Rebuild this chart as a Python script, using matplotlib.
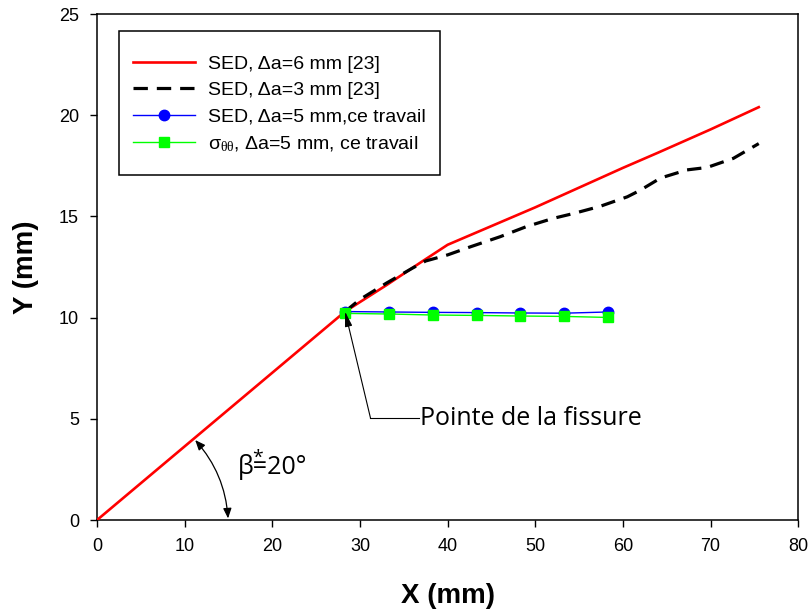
import matplotlib
matplotlib.use("Agg")
import matplotlib.pyplot as plt
from matplotlib.patches import FancyArrowPatch, Rectangle

# --- data -------------------------------------------------------------
sed6_x = [0, 28.3, 33.0, 37.0, 40.0, 50.0, 60.0, 64.0, 70.0, 75.5]
sed6_y = [0, 10.3, 11.6, 12.75, 13.6, 15.45, 17.4, 18.15, 19.3, 20.4]

sed3_x = [28.3, 30.0, 33.0, 36.0, 37.5, 40.0, 42.6, 46.0, 49.0, 52.0, 54.4,
          57.4, 60.5, 62.0, 64.3, 67.3, 69.6, 72.6, 75.5]
sed3_y = [10.3, 10.9, 11.7, 12.45, 12.8, 13.1, 13.5, 14.0, 14.5, 14.9, 15.15,
          15.5, 15.97, 16.3, 16.9, 17.3, 17.42, 17.87, 18.6]

work_x = [28.3, 33.3, 38.3, 43.3, 48.3, 53.3, 58.3]
sed5_y = [10.3, 10.28, 10.26, 10.25, 10.23, 10.22, 10.28]
sig5_y = [10.21, 10.18, 10.13, 10.11, 10.08, 10.06, 10.01]

x_ticks = [0, 10, 20, 30, 40, 50, 60, 70, 80]
y_ticks = [0, 5, 10, 15, 20, 25]

labels = ["SED, \u0394a=6 mm [23]",
          "SED, \u0394a=3 mm [23]",
          "SED, \u0394a=5 mm,ce travail",
          "\u03c3" + r"$_{\theta\theta}$" + ", \u0394a=5 mm, ce travail"]

tip = (28.3, 10.3)

# --- figure -----------------------------------------------------------
plt.rcParams["font.family"] = ["Liberation Sans", "DejaVu Sans"]
plt.rcParams["mathtext.fontset"] = "custom"
plt.rcParams["mathtext.rm"] = "Liberation Serif"
plt.rcParams["mathtext.it"] = "Liberation Serif"

fig = plt.figure(figsize=(8.12, 6.12), dpi=100)
ax = fig.add_axes([0.1195, 0.1503, 0.8635, 0.8267])

ax.plot(sed6_x, sed6_y, color="#ff0000", lw=1.9, label=labels[0], zorder=3)
ax.plot(sed3_x, sed3_y, color="black", lw=2.3, ls=(0, (4.5, 2.8)),
        label=labels[1], zorder=3)
ax.plot(work_x, sed5_y, color="#0000ff", lw=1.0, marker="o", ms=7.5,
        label=labels[2], zorder=4)
ax.plot(work_x, sig5_y, color="#00ff00", lw=1.0, marker="s", ms=7.5,
        label=labels[3], zorder=5)

ax.set_xlim(0, 80)
ax.set_ylim(0, 25)
ax.set_xticks(x_ticks)
ax.set_yticks(y_ticks)
ax.tick_params(direction="out", length=5, width=1, labelsize=13,
               top=False, right=False, pad=8)
for s in ax.spines.values():
    s.set_linewidth(1.1)

ax.set_xlabel("X (mm)", fontsize=20, fontweight="bold", labelpad=20)
ax.set_ylabel("Y (mm)", fontsize=20, fontweight="bold", labelpad=14)

# legend entries without their own frame, boxed by a separate rectangle
leg = ax.legend(loc="upper left", bbox_to_anchor=(0.0514, 0.919),
                borderaxespad=0, borderpad=0, fontsize=14, handlelength=3.2,
                handletextpad=0.67, labelspacing=0.45, frameon=False)
ax.add_patch(Rectangle((0.031, 0.682), 0.458, 0.284, transform=ax.transAxes,
                       fill=False, edgecolor="black", lw=1.1, zorder=6))

# crack tip annotation
ann_font = ["Open Sans", "DejaVu Sans"]
ax.plot([36.7, 31.2], [5.04, 5.04], color="black", lw=0.8, zorder=2)
ax.annotate("", xy=tip, xytext=(31.2, 5.04),
            arrowprops=dict(arrowstyle="-|>,head_length=0.9,head_width=0.22",
                            color="black", lw=0.8, shrinkA=0, shrinkB=0),
            zorder=6)
ax.text(36.9, 5.04, "Pointe de la fissure", fontsize=18, family=ann_font,
        va="center", ha="left")

# crack angle arc
arc = FancyArrowPatch((11.2, 3.95), (14.95, 0.08),
                      connectionstyle="arc3,rad=-0.17",
                      arrowstyle="<|-|>,head_length=6,head_width=2.5",
                      color="black", lw=0.9, shrinkA=0, shrinkB=0, zorder=6)
ax.add_patch(arc)
ax.text(16.1, 2.6, "\u03b2=20\u00b0", fontsize=18, family=ann_font,
        va="center", ha="left")
ax.text(17.75, 3.05, "*", fontsize=14, family=ann_font, va="center",
        ha="left")

fig.savefig("out.png", dpi=100)
